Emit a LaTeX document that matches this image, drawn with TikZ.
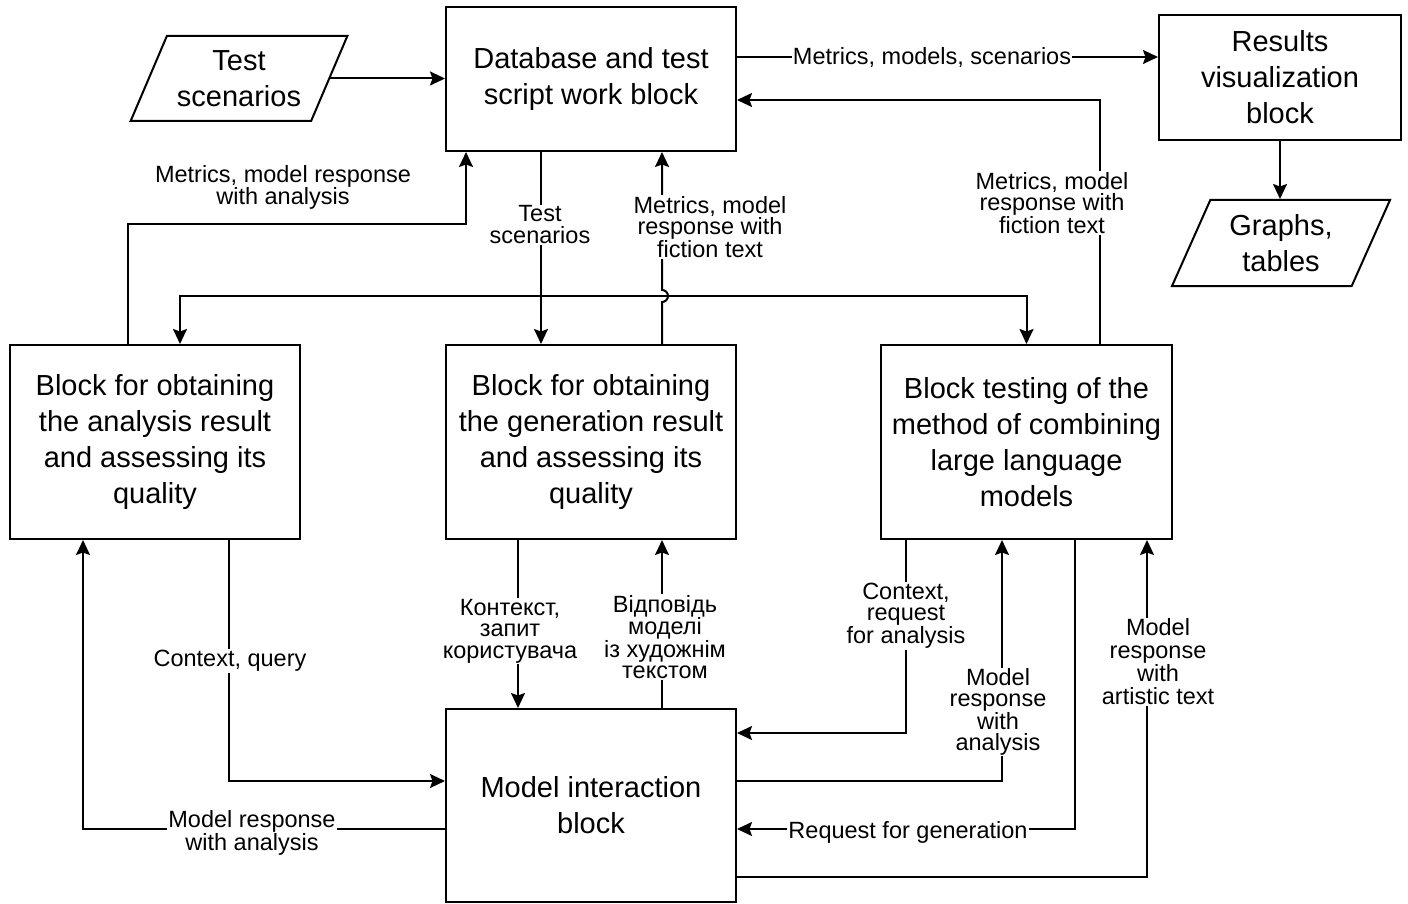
\documentclass[tikz,border=0pt]{standalone}
\usepackage{fontspec}
\setmainfont{Liberation Sans}
\usetikzlibrary{arrows.meta,shapes.geometric}
\begin{document}
\begin{tikzpicture}[x=1pt,y=-1pt,
  line width=2pt,
  arr/.style={-{Stealth[length=15pt,width=14pt,inset=2.5pt]}},
  box/.style={draw,rectangle,align=center,inner sep=0pt,font=\fontsize{29}{36}\selectfont},
  para/.style={draw,trapezium,trapezium stretches=true,inner sep=0pt,align=center,font=\fontsize{29}{36}\selectfont},
  lbl/.style={fill=white,inner sep=1pt,align=center,font=\fontsize{23.5}{22}\selectfont}]
\useasboundingbox (0,0) rectangle (1408,904);
% nodes
\node[box,minimum width=290pt,minimum height=144pt] (db) at (591,79) {Database and test\\script work block};
\node[box,minimum width=242pt,minimum height=125pt] (res) at (1280,77.5) {Results\\visualization\\block};
\node[box,minimum width=290pt,minimum height=194pt] (ana) at (155,442) {Block for obtaining\\the analysis result\\and assessing its\\quality};
\node[box,minimum width=290pt,minimum height=194pt] (gen) at (591,442) {Block for obtaining\\the generation result\\and assessing its\\quality};
\node[box,minimum width=291pt,minimum height=194pt] (tst) at (1026.5,442) {Block testing of the\\method of combining\\large language\\models};
\node[box,minimum width=290pt,minimum height=193pt] (mod) at (591,805.5) {Model interaction\\block};
\node[para,trapezium left angle=61,trapezium right angle=119,minimum width=217pt,minimum height=85pt] (ts) at (239,78.5) {Test\\scenarios};
\node[para,trapezium left angle=64,trapezium right angle=116,minimum width=218pt,minimum height=86pt] (gt) at (1281,243) {Graphs,\\tables};
% connectors
\draw[arr] (ts.east) -- (ts.east -| db.west);
\draw[arr] ([yshift=22pt]db.east) -- ([yshift=22pt]db.east -| res.west);
\draw[arr] (res.south) -- (res.south |- gt.north);
\draw[arr] ([xshift=73.5pt]tst.north) |- ([yshift=-21pt]db.east);
\draw[arr] ([xshift=-27pt]ana.north) -- ++(0,-120) -| ([xshift=-125pt]db.south);
\draw[arr] ([xshift=-50pt]db.south) -- ([xshift=-50pt]gen.north);
\coordinate (j) at (541,296);
\draw[arr] (j) -| ([xshift=25pt]ana.north);
\draw[arr] (j) -| (tst.north);
\draw[arr] ([xshift=71pt]gen.north) -- (662,302) arc[start angle=-90,end angle=90,radius=6pt] -- ([xshift=71pt]db.south);
\draw[arr] ([xshift=-73pt]gen.south) -- ([xshift=-73pt]mod.north);
\draw[arr] ([xshift=71pt]mod.north) -- ([xshift=71pt]gen.south);
\draw[arr] ([xshift=74pt]ana.south) |- ([yshift=24.5pt]mod.west);
\draw[arr] ([yshift=-23.5pt]mod.west) -| ([xshift=-72pt]ana.south);
\draw[arr] ([xshift=-120.5pt]tst.south) |- ([yshift=72.5pt]mod.east);
\draw[arr] ([yshift=24.5pt]mod.east) -| ([xshift=-24.5pt]tst.south);
\draw[arr] ([xshift=48.5pt]tst.south) |- ([yshift=-23.5pt]mod.east);
\draw[arr] ([yshift=-71.5pt]mod.east) -| ([xshift=120.5pt]tst.south);
% labels
\node[lbl] (l1) at (283,187) {Metrics, model response\\with analysis};
\node[lbl] (l2) at (540,225) {Test\\scenarios};
\node[lbl,font=\fontsize{23.5}{21}\selectfont] (l3) at (710,227) {Metrics, model\\response with\\fiction text};
\node[lbl,font=\fontsize{23.5}{21}\selectfont] (l4) at (1052,203) {Metrics, model\\response with\\fiction text};
\node[lbl] (l5) at (932,57) {Metrics, models, scenarios};
\node[lbl,font=\fontsize{23.5}{21.5}\selectfont] (l6) at (510,631) {Контекст,\\запит\\користувача};
\node[lbl,font=\fontsize{23.5}{21}\selectfont] (l7) at (665,637) {Відповідь\\моделі\\із художнім\\текстом};
\node[lbl] (l8) at (230,661) {Context, query};
\node[lbl,font=\fontsize{23.5}{21}\selectfont] (l9) at (252,833) {Model response\\with analysis};
\node[lbl,font=\fontsize{23.5}{21}\selectfont] (l10) at (906,616) {Context,\\request\\for analysis};
\node[lbl,font=\fontsize{23.5}{21}\selectfont] (l11) at (998,712) {Model\\response\\with\\analysis};
\node[lbl] (l12) at (908,832) {Request for generation};
\node[lbl,font=\fontsize{23.5}{23}\selectfont] (l13) at (1158,662) {Model\\response\\with\\artistic text};
\end{tikzpicture}
\end{document}
